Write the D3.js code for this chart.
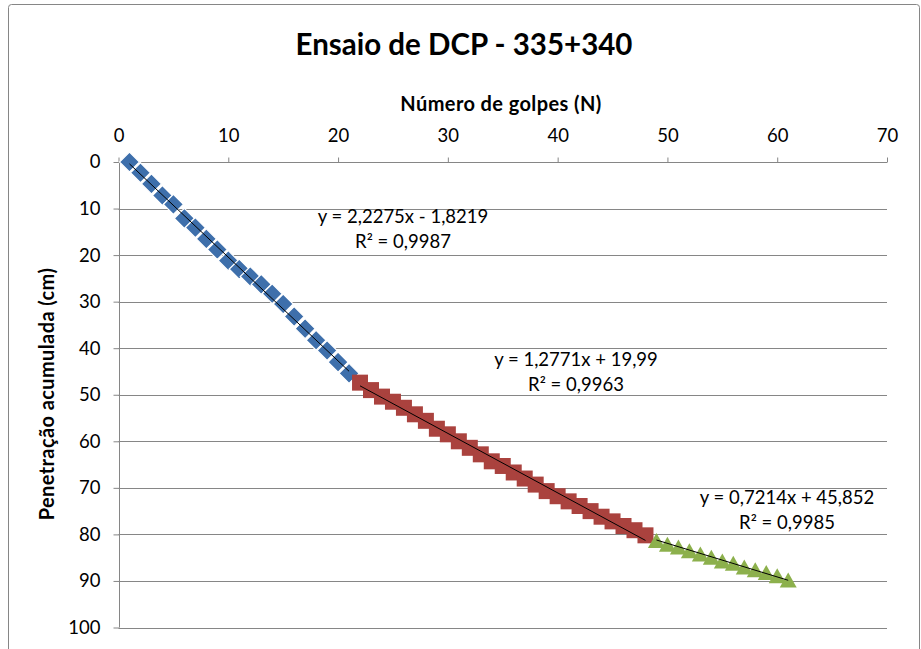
<!DOCTYPE html>
<html>
<head>
<meta charset="utf-8">
<script src="https://cdn.jsdelivr.net/npm/d3@7"></script>
<style>
  html, body { margin: 0; padding: 0; background: #fff; }
  svg { display: block; }
  text { font-family: Lato, "Open Sans", sans-serif; fill: #000; }
</style>
</head>
<body>
<svg id="chart" width="921" height="649"></svg>
<script>
// Ensaio DCP: penetração acumulada (cm) por número de golpes, três camadas
const chartTitle = "Ensaio de DCP - 335+340";
const xTitle = "Número de golpes (N)";
const yTitle = "Penetração acumulada (cm)";

const xTicks = [0, 10, 20, 30, 40, 50, 60, 70];
const yTicks = [0, 10, 20, 30, 40, 50, 60, 70, 80, 90, 100];

// Camada 1
const golpes1 = [1, 2, 3, 4, 5, 6, 7, 8, 9, 10, 11, 12, 13, 14, 15, 16, 17, 18, 19, 20, 21];
const penet1 = [0, 2.3, 4.7, 7.2, 9.1, 12.1, 14.1, 16.5, 18.8, 21.2, 23.0, 24.6, 26.3, 28.3,
                30.5, 33.2, 35.8, 38.3, 40.5, 43.0, 45.4];

// Camada 2
const golpes2 = [22, 23, 24, 25, 26, 27, 28, 29, 30, 31, 32, 33, 34, 35, 36, 37, 38, 39, 40,
                 41, 42, 43, 44, 45, 46, 47, 48];
const penet2 = [47.4, 49.0, 50.4, 51.5, 52.8, 54.2, 55.6, 57.3, 58.5, 60.0, 61.4, 62.8, 64.3,
                65.3, 66.7, 68.0, 69.3, 70.7, 71.8, 72.9, 73.9, 75.0, 76.2, 77.2, 78.2, 79.1, 80.2];

// Camada 3
const golpes3 = [49, 50, 51, 52, 53, 54, 55, 56, 57, 58, 59, 60, 61];
const penet3 = [81.3, 82.1, 82.7, 83.5, 84.2, 84.9, 85.7, 86.2, 87.0, 87.6, 88.2, 88.9, 89.8];

// Linhas de tendência lineares (coeficientes das equações exibidas)
const trendSlopes = [2.2275, 1.2771, 0.7214];
const trendIntercepts = [-1.8219, 19.99, 45.852];
const trendEquations = ["y = 2,2275x - 1,8219", "y = 1,2771x + 19,99", "y = 0,7214x + 45,852"];
const trendR2 = ["R² = 0,9987", "R² = 0,9963", "R² = 0,9985"];

const svg = d3.select("#chart");

// moldura do gráfico
svg.append("rect")
  .attr("x", 8.5).attr("y", 4.5)
  .attr("width", 911).attr("height", 660)
  .attr("rx", 3)
  .attr("fill", "#fff")
  .attr("stroke", "#868686")
  .attr("stroke-width", 1);

const plot = { left: 118.5, right: 887, top: 162, bottom: 627.5 };

const x = d3.scaleLinear().domain([0, 70]).range([plot.left, plot.right]);
const y = d3.scaleLinear().domain([0, 100]).range([plot.top, plot.bottom]);

// grade horizontal
svg.append("g")
  .selectAll("line")
  .data(yTicks.filter(d => d > 0))
  .join("line")
  .attr("x1", plot.left).attr("x2", plot.right)
  .attr("y1", d => Math.round(y(d)) + 0.5).attr("y2", d => Math.round(y(d)) + 0.5)
  .attr("stroke", "#868686").attr("stroke-width", 1);

// eixo X no topo
const xAxis = svg.append("g")
  .attr("transform", `translate(0,${Math.round(plot.top) + 0.5})`)
  .call(d3.axisTop(x).tickValues(xTicks).tickSize(5).tickPadding(16).tickFormat(d3.format("d")));

// eixo Y à esquerda (invertido)
const yAxis = svg.append("g")
  .attr("transform", `translate(${Math.round(plot.left) + 0.5},0)`)
  .call(d3.axisLeft(y).tickValues(yTicks).tickSize(6).tickPadding(13).tickFormat(d3.format("d")));

[xAxis, yAxis].forEach(g => {
  g.select(".domain").attr("stroke", "#868686").attr("d", null);
  g.selectAll(".tick line").attr("stroke", "#868686");
  g.selectAll(".tick text")
    .style("font-family", "Lato, 'Open Sans', sans-serif")
    .style("font-size", "18.5px")
    .attr("fill", "#1a1a1a");
});
// linhas dos eixos
svg.append("line")
  .attr("x1", plot.left).attr("x2", plot.right)
  .attr("y1", Math.round(plot.top) + 0.5).attr("y2", Math.round(plot.top) + 0.5)
  .attr("stroke", "#868686");
svg.append("line")
  .attr("x1", Math.round(plot.left) + 0.5).attr("x2", Math.round(plot.left) + 0.5)
  .attr("y1", plot.top).attr("y2", plot.bottom)
  .attr("stroke", "#868686");

// títulos
svg.append("text")
  .attr("x", 464).attr("y", 55)
  .attr("text-anchor", "middle")
  .style("font-size", "29.5px").style("font-weight", "bold")
  .text(chartTitle);

svg.append("text")
  .attr("x", 501).attr("y", 111)
  .attr("text-anchor", "middle")
  .style("font-size", "20px").style("font-weight", "bold")
  .style("letter-spacing", "0.4px")
  .text(xTitle);

svg.append("text")
  .attr("transform", "translate(54,394) rotate(-90)")
  .attr("text-anchor", "middle")
  .style("font-size", "20px").style("font-weight", "bold")
  .style("letter-spacing", "0.4px")
  .text(yTitle);

// marcadores
const series = [
  { n: golpes1, p: penet1, color: "#3e6fab", shape: "diamond" },
  { n: golpes2, p: penet2, color: "#aa423e", shape: "square" },
  { n: golpes3, p: penet3, color: "#8cb04c", shape: "triangle" }
];

function markerPath(shape) {
  if (shape === "diamond") {
    const r = 10;
    return `M0,${-r}L${r},0L0,${r}L${-r},0Z`;
  }
  if (shape === "square") {
    const h = 8;
    return `M${-h},${-h}H${h}V${h}H${-h}Z`;
  }
  const w = 8.5, h = 7.5;
  return `M0,${-h}L${w},${h}L${-w},${h}Z`;
}

series.forEach(s => {
  const pts = s.n.map((n, i) => ({ n, p: s.p[i] }));
  svg.append("g")
    .selectAll("path")
    .data(pts)
    .join("path")
    .attr("d", markerPath(s.shape))
    .attr("transform", d => `translate(${x(d.n)},${y(d.p)})`)
    .attr("fill", s.color)
    .attr("stroke", s.shape === "diamond" ? "#ffffff" : "none")
    .attr("stroke-width", s.shape === "diamond" ? 1.2 : 0);
});

// linhas de tendência
series.forEach((s, i) => {
  const x0 = d3.min(s.n), x1 = d3.max(s.n);
  const f = v => trendSlopes[i] * v + trendIntercepts[i];
  svg.append("line")
    .attr("x1", x(x0)).attr("y1", y(f(x0)))
    .attr("x2", x(x1)).attr("y2", y(f(x1)))
    .attr("stroke", "#000").attr("stroke-width", 1);
});

// rótulos das equações
const labelPos = [[403, 223], [576, 366], [787, 504]];
labelPos.forEach((pos, i) => {
  const t = svg.append("text")
    .attr("text-anchor", "middle")
    .style("font-size", "18.5px");
  t.append("tspan").attr("x", pos[0]).attr("y", pos[1]).text(trendEquations[i]);
  t.append("tspan").attr("x", pos[0]).attr("y", pos[1] + 25).text(trendR2[i]);
});
</script>
</body>
</html>
